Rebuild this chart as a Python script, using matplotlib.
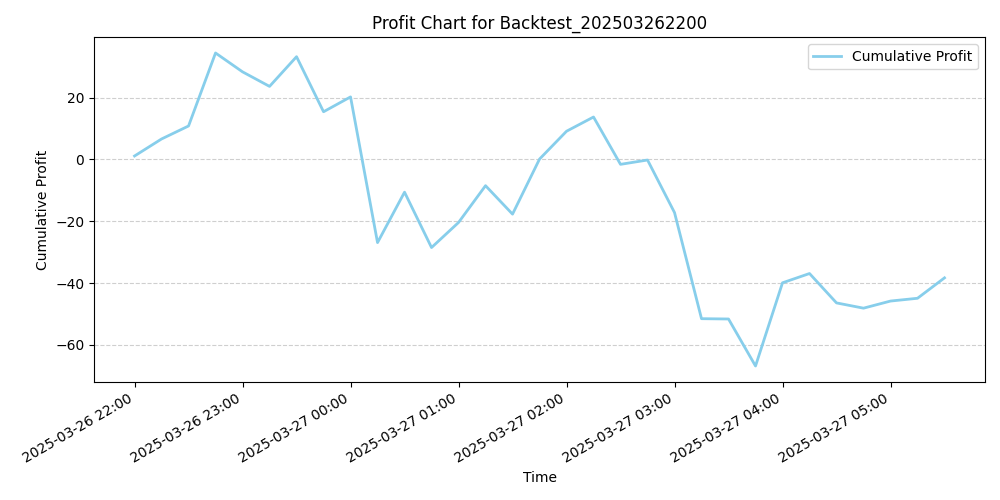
import matplotlib
matplotlib.use("Agg")
import matplotlib.pyplot as plt
import matplotlib.dates as mdates
import pandas as pd

times = pd.date_range("2025-03-26 22:00", "2025-03-27 05:30", freq="15min")
profit = [1.1, 6.6, 10.8, 34.4, 28.3, 23.6, 33.2, 15.4, 20.2,
          -26.9, -10.6, -28.5, -20.4, -8.5, -17.7, 0.1, 9.1, 13.7,
          -1.6, -0.2, -17.2, -51.5, -51.6, -66.8, -39.9, -36.9,
          -46.4, -48.1, -45.8, -44.9, -38.3]

fig, ax = plt.subplots(figsize=(10, 5), dpi=100)
ax.plot(times, profit, color="skyblue", linewidth=2, label="Cumulative Profit")
ax.set_title("Profit Chart for Backtest_202503262200")
ax.set_xlabel("Time")
ax.set_ylabel("Cumulative Profit")
ax.grid(axis="y", linestyle="--", alpha=0.6)
ax.legend(loc="upper right")
ax.xaxis.set_major_locator(mdates.HourLocator())
ax.xaxis.set_major_formatter(mdates.DateFormatter("%Y-%m-%d %H:%M"))
fig.autofmt_xdate()
fig.tight_layout()
fig.savefig("out.png")
